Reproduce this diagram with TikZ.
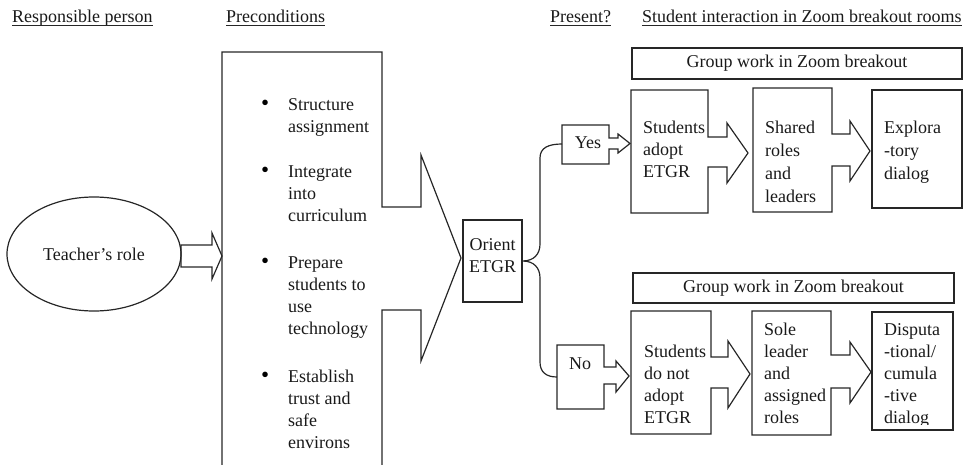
\documentclass[tikz,border=0pt]{standalone}
\usepackage{fontspec}
\setmainfont{Liberation Serif}
\usetikzlibrary{calc,shapes.geometric}
\begin{document}
\begin{tikzpicture}[x=1pt,y=-1pt,
  shp/.style={draw=black!85, line width=1.2pt, line join=miter},
  txt/.style={inner sep=0pt, font=\fontsize{18}{22}\selectfont, text=black!90, align=left, anchor=base west},
  ctxt/.style={inner sep=0pt, font=\fontsize{18}{22}\selectfont, text=black!90, align=center, anchor=base},
  bul/.style={inner sep=0pt, font=\fontsize{23}{22}\selectfont, text=black, anchor=base west},
  ul/.style={draw=black!85, line width=1pt},
  brace/.style={draw=black!85, line width=1.2pt},
]
\useasboundingbox (0,0) rectangle (963,465);

% headers
\node[txt] (h1) at (12,23) {Responsible person};
\node[txt] (h2) at (226,23) {Preconditions};
\node[txt] (h3) at (550,23) {Present?};
\node[txt] (h4) at (642,23) {Student interaction in Zoom breakout rooms};
\foreach \h in {h1,h2,h3,h4}
  \draw[ul] ($(\h.base west)+(0,3)$) -- ($(\h.base east)+(0,3)$);

% teacher
\node[shp, ellipse, minimum width=174pt, minimum height=114pt, inner sep=0pt,
      font=\fontsize{18}{22}\selectfont, text=black!90] (teacher) at (94,254) {Teacher’s role};
\draw[shp] (181,245) -- (212,245) -- (212,233) -- (222,256) -- (212,279) -- (212,267) -- (181,267) -- cycle;

% preconditions callout (text anchors are last-line baselines)
\coordinate (pcTL) at (222,52);
\draw[shp] (222,466) -- (pcTL) -- (382,52) -- (382,207) -- (421,207) -- (421,155)
  -- (461,258) -- (421,361) -- (421,310) -- (382,310) -- (382,466);
\node[bul] (b1) at (261,111) {•};
\node[txt] (p1) at (288,133) {Structure\\assignment};
\node[bul] (b2) at (261,178) {•};
\node[txt] (p2) at (288,222) {Integrate\\into\\curriculum};
\node[bul] (b3) at (261,268) {•};
\node[txt] (p3) at (288,334) {Prepare\\students to\\use\\technology};
\node[bul] (b4) at (261,382) {•};
\node[txt] (p4) at (288,448) {Establish\\trust and\\safe\\environs};

% orient
\node[shp, minimum width=59pt, minimum height=82pt, inner sep=0pt] (orient) at (492.5,261) {};
\node[ctxt] (orientt) at (492.5,272) {Orient\\ETGR};

% yes / no callouts
\coordinate (yes) at (562,144);
\draw[shp] (562,125) -- (609,125) -- (609,138) -- (618,138) -- (618,134) -- (630,143.5)
  -- (618,153) -- (618,149) -- (609,149) -- (609,164) -- (562,164) -- cycle;
\node[ctxt] (yest) at (588,149) {Yes};
\coordinate (no) at (557,377);
\draw[shp] (557,345) -- (604,345) -- (604,367) -- (616,367) -- (616,361) -- (629,376)
  -- (616,392) -- (616,384) -- (604,384) -- (604,409) -- (557,409) -- cycle;
\node[ctxt] (not) at (580,369) {No};

% brace
\draw[brace] (yes) .. controls (548,144) and (540,148) .. (540,158) -- (540,244)
  .. controls (540,254) and (534,261) .. (orient.east)
  .. controls (534,261) and (540,268) .. (540,278) -- (540,362)
  .. controls (540,372) and (546,377) .. (no);

% top row
\node[shp, minimum width=330pt, minimum height=31pt, inner sep=0pt,
      font=\fontsize{18}{22}\selectfont, text=black!90] (gw1) at (797,63.5) {Group work in Zoom breakout};
\draw[shp] (631,90) -- (708,90) -- (708,137) -- (727,137) -- (727,123) -- (748,153)
  -- (727,183) -- (727,167) -- (708,167) -- (708,213) -- (631,213) -- cycle;
\node[txt] (sa) at (643,178) {Students\\adopt\\ETGR};
\draw[shp] (753,88) -- (832,88) -- (832,134) -- (850,134) -- (850,121) -- (870,151)
  -- (850,181) -- (850,166) -- (832,166) -- (832,212) -- (753,212) -- cycle;
\node[txt, font=\fontsize{18}{23}\selectfont] (sr) at (765,202) {Shared\\roles\\and\\leaders};
\node[shp, minimum width=90pt, minimum height=118pt, inner sep=0pt] (ex) at (917,149) {};
\node[txt, font=\fontsize{18}{23}\selectfont] (ext) at (884,179) {Explora\\-tory\\dialog};

% bottom row
\node[shp, minimum width=321pt, minimum height=30pt, inner sep=0pt,
      font=\fontsize{18}{22}\selectfont, text=black!90] (gw2) at (793.5,288) {Group work in Zoom breakout};
\draw[shp] (631,311) -- (711,311) -- (711,357) -- (728,357) -- (728,341) -- (750,374)
  -- (728,408) -- (728,388) -- (711,388) -- (711,434) -- (631,434) -- cycle;
\node[txt] (sn) at (644,423) {Students\\do not\\adopt\\ETGR};
\draw[shp] (752,311) -- (831,311) -- (831,355) -- (850,355) -- (850,342) -- (871,372)
  -- (850,403) -- (850,388) -- (831,388) -- (831,435) -- (752,435) -- cycle;
\node[txt] (sl) at (764,423) {Sole\\leader\\and\\assigned\\roles};
\node[shp, minimum width=81pt, minimum height=118pt, inner sep=0pt] (dp) at (912.5,371) {};
\begin{scope}
  \clip (872,312) rectangle (953,424.5);
  \node[txt] (dpt) at (884,423) {Disputa\\-tional/\\cumula\\-tive\\dialog};
\end{scope}
\end{tikzpicture}
\end{document}
